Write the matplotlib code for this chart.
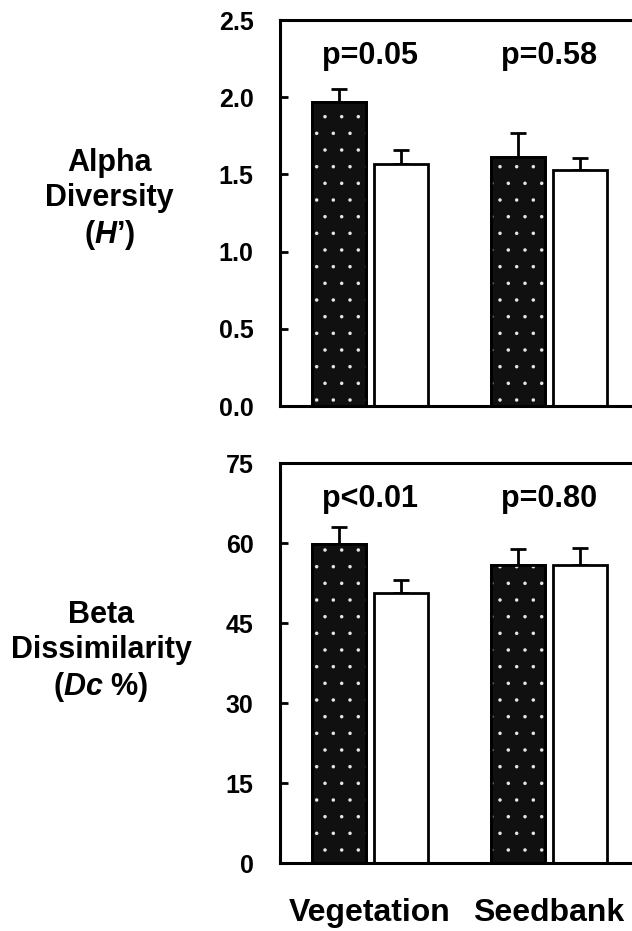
import matplotlib
matplotlib.use('Agg')
import matplotlib.pyplot as plt
import numpy as np

plt.rcParams['font.family'] = ['Liberation Sans', 'DejaVu Sans']
plt.rcParams['font.weight'] = 'bold'
plt.rcParams['mathtext.fontset'] = 'custom'
plt.rcParams['mathtext.rm'] = 'Liberation Sans:bold'
plt.rcParams['mathtext.it'] = 'Liberation Sans:italic:bold'
plt.rcParams['hatch.linewidth'] = 0.1

# data
groups = ['Vegetation', 'Seedbank']
alpha_dark = [1.97, 1.61]
alpha_dark_se = [0.08, 0.155]
alpha_white = [1.57, 1.53]
alpha_white_se = [0.09, 0.075]
alpha_p = ['p=0.05', 'p=0.58']

beta_dark = [59.8, 55.9]
beta_dark_se = [3.3, 3.0]
beta_white = [50.6, 55.9]
beta_white_se = [2.6, 3.3]
beta_p = ['p<0.01', 'p=0.80']

fig = plt.figure(figsize=(6.32, 9.31), dpi=100)
ax1 = fig.add_axes([0.443, 0.5639, 0.5633, 0.4146])
ax2 = fig.add_axes([0.443, 0.0727, 0.5633, 0.4296])

x = np.arange(len(groups))
w = 0.30
off = 0.175


def draw_panel(ax, dark, dark_se, white, white_se, ptext, ymax, yticks, ptext_y):
    xd = x - off
    xw = x + off
    ax.bar(xd, dark, w, color='#101010', edgecolor='black', linewidth=2, zorder=2)
    # white stipple over the dark bars
    ax.bar(xd, dark, w, facecolor='none', edgecolor='#e8e8e8', hatch='.', linewidth=0, zorder=3)
    ax.bar(xd, dark, w, facecolor='none', edgecolor='black', linewidth=2, zorder=4)
    ax.bar(xw, white, w, color='white', edgecolor='black', linewidth=2, zorder=2)
    ax.errorbar(xd, dark, yerr=[np.zeros(len(dark)), dark_se], fmt='none',
                ecolor='black', elinewidth=2, capsize=5.5, capthick=2, zorder=1)
    ax.errorbar(xw, white, yerr=[np.zeros(len(white)), white_se], fmt='none',
                ecolor='black', elinewidth=2, capsize=5.5, capthick=2, zorder=1)
    for xi, t in zip(x, ptext):
        ax.text(xi, ptext_y, t, ha='center', va='center', fontsize=22, fontweight='bold')
    ax.set_xlim(-0.503, 1.486)
    ax.set_ylim(0, ymax)
    ax.set_yticks(yticks)
    ax.tick_params(axis='y', direction='in', length=6, width=2, pad=19, labelsize=18)
    for s in ax.spines.values():
        s.set_linewidth(2.2)


draw_panel(ax1, alpha_dark, alpha_dark_se, alpha_white, alpha_white_se, alpha_p,
           2.5, [0.0, 0.5, 1.0, 1.5, 2.0, 2.5], 2.27)
ax1.set_yticklabels(['0.0', '0.5', '1.0', '1.5', '2.0', '2.5'])
ax1.set_xticks([])

draw_panel(ax2, beta_dark, beta_dark_se, beta_white, beta_white_se, beta_p,
           75, [0, 15, 30, 45, 60, 75], 68.3)
ax2.set_xticks(x)
ax2.set_xticklabels(groups, fontsize=23, fontweight='bold')
ax2.tick_params(axis='x', length=0, pad=25)

fig.text(0.173, 1 - 200 / 931, "Alpha\nDiversity\n($H$’)", ha='center', va='center',
         fontsize=22, fontweight='bold', linespacing=1.2)
fig.text(0.16, 1 - 652 / 931, "Beta\nDissimilarity\n($Dc$ %)", ha='center', va='center',
         fontsize=22, fontweight='bold', linespacing=1.2)

fig.savefig('out.png', dpi=100)
